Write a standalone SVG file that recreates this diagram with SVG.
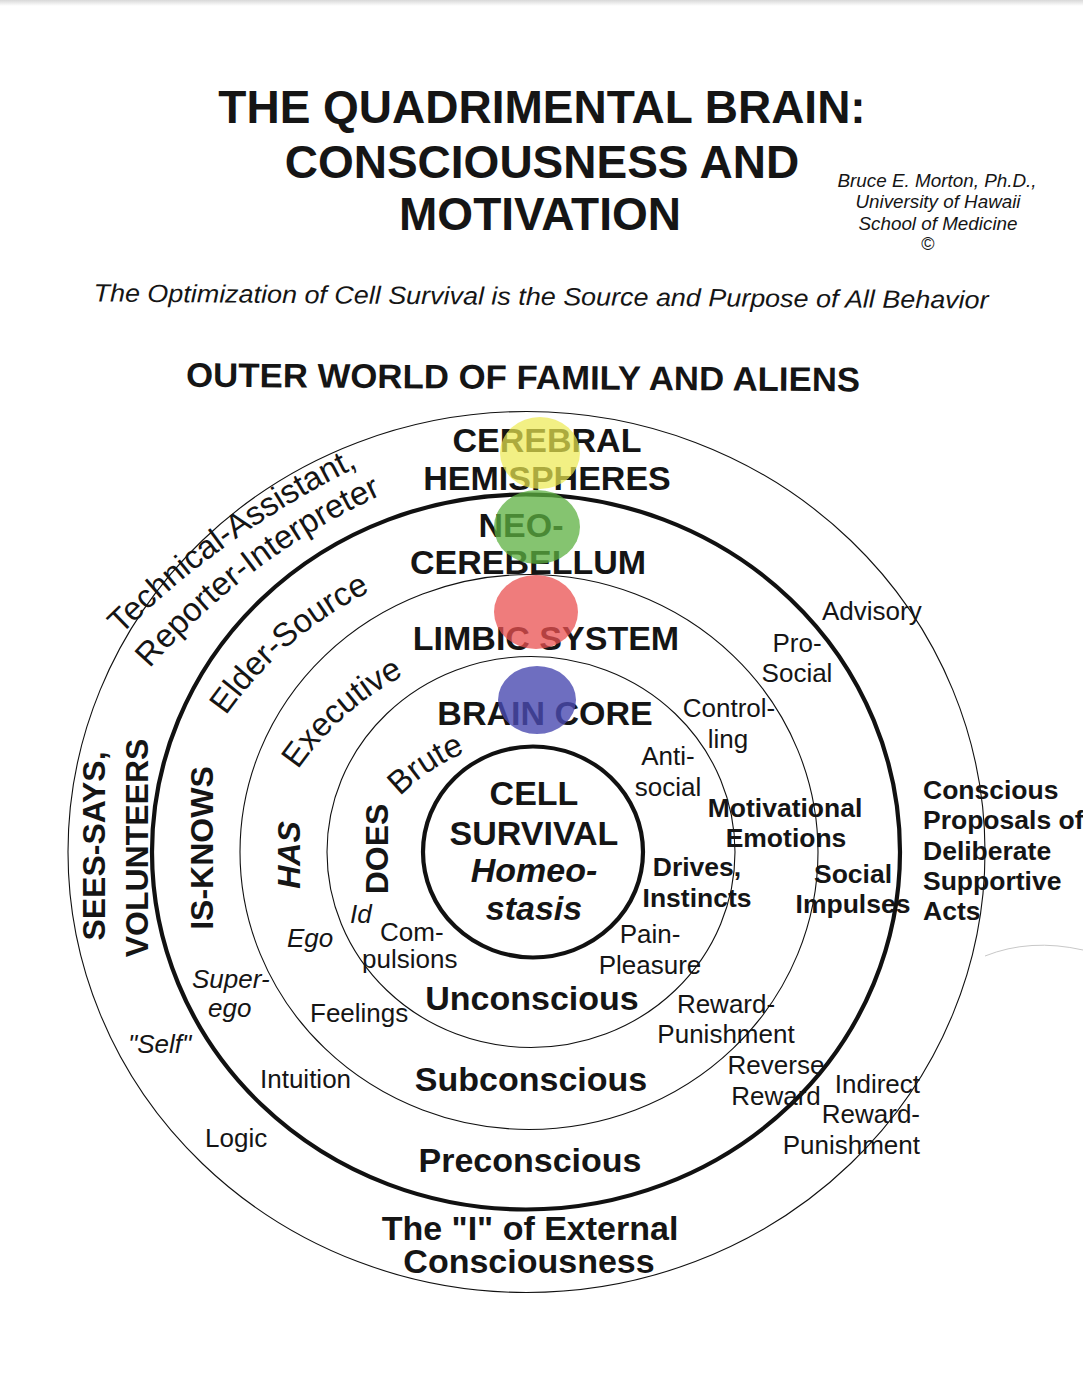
<svg xmlns="http://www.w3.org/2000/svg" width="1083" height="1392" viewBox="0 0 1083 1392">
<style>
text { font-family: "Liberation Sans", Arial, sans-serif; fill: #151515; }
.b { font-weight: bold; }
.i { font-style: italic; }
.t { font-size: 46px; font-weight: bold; text-anchor: middle; }
.L { font-size: 34px; font-weight: bold; text-anchor: middle; }
.s { font-size: 26px; }
.sb { font-size: 26.5px; font-weight: bold; }
.v { font-size: 32px; font-weight: bold; text-anchor: middle; }
.c { font-size: 33px; text-anchor: middle; }
.ring { fill: none; stroke: #111; }
.thin { stroke-width: 1.1; }
.thick { stroke-width: 4.2; }
</style>
<defs>
<linearGradient id="edge" x1="0" y1="0" x2="0" y2="1">
<stop offset="0" stop-color="#d8d8d8"/>
<stop offset="1" stop-color="#ffffff"/>
</linearGradient>
<path id="p-tech" d="M 49.3 714.9 A 900 900 0 0 1 457.3 425.5"/>
<path id="p-rep" d="M 84.2 756.2 A 700 700 0 0 1 484.2 456.7"/>
<path id="p-elder" d="M 181.7 1070.4 A 383 383 0 0 1 727.4 601.0"/>
<path id="p-exec" d="M 267.8 1043.3 A 293 293 0 0 1 678.9 677.0"/>
<path id="p-brute" d="M 348.7 982.0 A 197 197 0 0 1 656.3 776.0"/>
</defs>
<rect width="1083" height="1392" fill="#fff"/>
<rect width="1083" height="6" fill="url(#edge)"/>

<g id="title">
<text class="t" x="542" y="123">THE QUADRIMENTAL BRAIN:</text>
<text class="t" x="542" y="178">CONSCIOUSNESS AND</text>
<text class="t" x="540" y="230">MOTIVATION</text>
</g>
<g id="author" font-size="17.5" text-anchor="middle">
<text class="i" x="937" y="187" textLength="199" lengthAdjust="spacingAndGlyphs">Bruce E. Morton, Ph.D.,</text>
<text class="i" x="938" y="208" textLength="165" lengthAdjust="spacingAndGlyphs">University of Hawaii</text>
<text class="i" x="938" y="230" textLength="159" lengthAdjust="spacingAndGlyphs">School of Medicine</text>
<text x="928" y="250" font-size="18">©</text>
</g>
<text class="i" x="541" y="305" font-size="25" text-anchor="middle" textLength="895" lengthAdjust="spacingAndGlyphs" transform="rotate(0.45 541 305)">The Optimization of Cell Survival is the Source and Purpose of All Behavior</text>
<text class="b" x="523" y="389" font-size="34" text-anchor="middle" textLength="674" lengthAdjust="spacingAndGlyphs" transform="rotate(0.4 523 389)">OUTER WORLD OF FAMILY AND ALIENS</text>

<g id="rings">
<ellipse class="ring thin" cx="526.5" cy="852" rx="458.5" ry="440.5"/>
<ellipse class="ring thick" cx="526" cy="852" rx="374" ry="357.5"/>
<ellipse class="ring thin" cx="529" cy="852" rx="289" ry="277.5"/>
<ellipse class="ring thin" cx="531" cy="852" rx="204" ry="195.5"/>
<ellipse class="ring thick" cx="533" cy="852" rx="110" ry="105.5"/>
<path d="M 985 956 Q 1030 938 1083 950" fill="none" stroke="#c8c8c8" stroke-width="1"/>
</g>

<g id="node-cerebral-hemispheres">
<text class="L" x="547" y="452">CEREBRAL</text>
<text class="L" x="547" y="490">HEMISPHERES</text>
<text class="c"><textPath href="#p-tech" startOffset="50%">Technical-Assistant,</textPath></text>
<text class="v" transform="translate(105,846) rotate(-90)">SEES-SAYS,</text>
<text class="s" x="822" y="620">Advisory</text>
<text class="sb" x="923" y="799">Conscious</text>
<text class="sb" x="923" y="829">Proposals of</text>
<text class="sb" x="923" y="860">Deliberate</text>
<text class="sb" x="923" y="890">Supportive</text>
<text class="sb" x="923" y="920">Acts</text>
<text class="s i" x="128" y="1053">"Self"</text>
<text class="s" x="205" y="1147">Logic</text>
<text class="s" x="920" y="1093" text-anchor="end">Indirect</text>
<text class="s" x="920" y="1123" text-anchor="end">Reward-</text>
<text class="s" x="920" y="1154" text-anchor="end">Punishment</text>
<text class="L" x="530" y="1240">The "I" of External</text>
<text class="L" x="529" y="1273">Consciousness</text>
</g>

<g id="node-neocerebellum">
<text class="L" x="521" y="537">NEO-</text>
<text class="L" x="528" y="574">CEREBELLUM</text>
<text class="c"><textPath href="#p-rep" startOffset="50%">Reporter-Interpreter</textPath></text>
<text class="c"><textPath href="#p-elder" startOffset="50%">Elder-Source</textPath></text>
<text class="v" transform="translate(148,848) rotate(-90)">VOLUNTEERS</text>
<text class="v" transform="translate(213,848) rotate(-90)">IS-KNOWS</text>
<text class="s" x="797" y="652" text-anchor="middle">Pro-</text>
<text class="s" x="797" y="682" text-anchor="middle">Social</text>
<text class="sb" x="853" y="883" text-anchor="middle">Social</text>
<text class="sb" x="853" y="913" text-anchor="middle">Impulses</text>
<text class="s i" x="192" y="988">Super-</text>
<text class="s i" x="208" y="1017">ego</text>
<text class="s" x="260" y="1088">Intuition</text>
<text class="s" x="776" y="1074" text-anchor="middle">Reverse</text>
<text class="s" x="776" y="1105" text-anchor="middle">Reward</text>
<text class="L" x="530" y="1172">Preconscious</text>
</g>

<g id="node-limbic-system">
<text class="L" x="546" y="650">LIMBIC SYSTEM</text>
<text class="c"><textPath href="#p-exec" startOffset="50%">Executive</textPath></text>
<text class="v i" transform="translate(300,855) rotate(-90)">HAS</text>
<text class="s" x="729" y="717" text-anchor="middle">Control-</text>
<text class="s" x="728" y="748" text-anchor="middle">ling</text>
<text class="sb" x="785" y="817" text-anchor="middle">Motivational</text>
<text class="sb" x="786" y="847" text-anchor="middle">Emotions</text>
<text class="s i" x="287" y="947">Ego</text>
<text class="s" x="310" y="1022">Feelings</text>
<text class="s" x="726" y="1013" text-anchor="middle">Reward-</text>
<text class="s" x="726" y="1043" text-anchor="middle">Punishment</text>
<text class="L" x="531" y="1091">Subconscious</text>
</g>

<g id="node-brain-core">
<text class="L" x="545" y="725">BRAIN CORE</text>
<text class="c"><textPath href="#p-brute" startOffset="50%">Brute</textPath></text>
<text class="v" font-size="31" transform="translate(388,849) rotate(-90)">DOES</text>
<text class="s" x="668" y="765" text-anchor="middle">Anti-</text>
<text class="s" x="668" y="796" text-anchor="middle">social</text>
<text class="sb" x="697" y="876" text-anchor="middle">Drives,</text>
<text class="sb" x="697" y="907" text-anchor="middle">Instincts</text>
<text class="s i" x="350" y="923">Id</text>
<text class="s" x="380" y="941">Com-</text>
<text class="s" x="362" y="968">pulsions</text>
<text class="s" x="650" y="943" text-anchor="middle">Pain-</text>
<text class="s" x="650" y="974" text-anchor="middle">Pleasure</text>
<text class="L" x="532" y="1010">Unconscious</text>
</g>

<g id="node-cell-survival">
<text class="L" x="534" y="805">CELL</text>
<text class="L" x="534" y="845">SURVIVAL</text>
<text class="L i" x="534" y="882">Homeo-</text>
<text class="L i" x="534" y="920">stasis</text>
</g>

<g id="color-dots">
<ellipse cx="540" cy="453" rx="40" ry="36" fill="#ecea50" fill-opacity="0.7"/>
<ellipse cx="537" cy="527" rx="43" ry="37" fill="#5cb040" fill-opacity="0.75"/>
<ellipse cx="536" cy="612" rx="42" ry="37" fill="#ea5050" fill-opacity="0.75"/>
<ellipse cx="537" cy="700" rx="39" ry="34" fill="#4a4ab0" fill-opacity="0.8"/>
</g>
<g id="connectors"/>
</svg>
